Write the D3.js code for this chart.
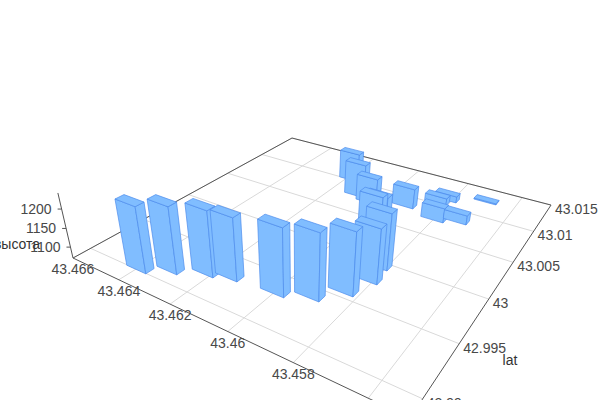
<!DOCTYPE html>
<html><head><meta charset="utf-8"><script src="https://cdn.jsdelivr.net/npm/d3@7"></script>
<style>html,body{margin:0;background:#fff}svg{display:block}text{font-family:"Liberation Sans",Arial,sans-serif;font-size:14px}</style></head>
<body><svg id="c" width="600" height="400"></svg>
<script>
const lons=[43.46398,43.46321,43.46225,43.46156,43.46004,43.45915,43.45850,43.45822,43.45830,43.46188,43.46107,43.46047,43.45925,43.45920,43.45928,43.45804,43.45736,43.45842,43.45821,43.45700];
const lats=[42.99033,42.99139,42.99246,42.99299,42.99330,42.99418,42.99581,42.99779,42.99958,43.01032,43.00799,43.00747,43.00273,43.00328,43.00852,43.00776,43.00845,43.01047,43.01141,43.01289];
const heights=[1241,1243,1240,1232,1242,1239,1231,1212,1218,1155,1167,1145,1189,1180,1127,1111,1096,1091,1088,1073];
const lonTicks=[43.466,43.464,43.462,43.46,43.458,43.456];
const latTicks=[43.015,43.01,43.005,43,42.995,42.99];
const zTicks=[1100,1150,1200];
const lonDomain=[43.466,43.455], latDomain=[42.9885,43.015], zDomain=[1070,1240];
const zName="высота", latName="lat";

const U=d3.scaleLinear().domain(lonDomain).range([0,1]);
const Vs=d3.scaleLinear().domain(latDomain).range([0,1]);
const T=d3.scaleLinear().domain(zDomain).range([0,-0.0627]);
// perspective camera matrix of the chart's 3D box
const P={a:217.3,b:353.3,c:73,d:38,e:-56.5,f:258,g:-0.2919,h:0.4599,vx:299,vy:1230};
function proj(u,v,t=0){
  const w=P.g*u+P.h*v+1+t;
  return [(P.a*u+P.b*v+P.c+t*P.vx)/w,(P.d*u+P.e*v+P.f+t*P.vy)/w];
}
const svg=d3.select("#c");
const line=d3.line();
const seg=(p,q,col,wd)=>svg.append("line").attr("x1",p[0]).attr("y1",p[1]).attr("x2",q[0]).attr("y2",q[1]).attr("stroke",col).attr("stroke-width",wd);
const GRID="#d9d9d9",AXIS="#555",TXT="#484848";
// floor grid
lonTicks.forEach(l=>seg(proj(U(l),0),proj(U(l),1),GRID,1));
latTicks.forEach(l=>seg(proj(0,Vs(l)),proj(1,Vs(l)),GRID,1));
// frame
seg(proj(0,0),proj(1,0),AXIS,1);
seg(proj(0,0),proj(0,1),AXIS,1);
seg(proj(0,1),proj(1,1),AXIS,1);
seg(proj(1,1),proj(1,0),AXIS,1);
seg(proj(0,0),proj(0,0,T(zDomain[1])),AXIS,1);
// labels
lonTicks.forEach(l=>{const p=proj(U(l),0);svg.append("text").attr("x",p[0]).attr("y",p[1]+16).attr("text-anchor","middle").attr("fill",TXT).text(l);});
latTicks.forEach(l=>{const p=proj(1,Vs(l));svg.append("text").attr("x",p[0]+4).attr("y",p[1]+9).attr("fill",TXT).text(l);});
zTicks.forEach(z=>{const p=proj(0,0,T(z));seg([p[0]-4,p[1]],p,AXIS,1);svg.append("text").attr("x",p[0]-10).attr("y",p[1]+5).attr("text-anchor","end").attr("fill",TXT).text(z);});
svg.append("text").attr("x",17).attr("y",249).attr("text-anchor","middle").attr("fill","#333").text(zName);
svg.append("text").attr("x",510).attr("y",365).attr("text-anchor","middle").attr("fill","#333").text(latName);
// bars
const du=0.036,dv=0.014;
const bars=lons.map((l,i)=>({u:U(l),v:Vs(lats[i]),t:T(heights[i])}))
  .sort((p,q)=>proj(p.u,p.v)[1]-proj(q.u,q.v)[1]);
const poly=pts=>svg.append("path").attr("d",line(pts)+"Z").attr("fill","#80bdff").attr("stroke","#4d8cec").attr("stroke-width",.7).attr("stroke-linejoin","round");
bars.forEach(b=>{
  const u0=b.u-du,u1=b.u+du,v0=b.v-dv,v1=b.v+dv,t=b.t;
  poly([proj(u0,v0),proj(u1,v0),proj(u1,v0,t),proj(u0,v0,t)]);
  poly([proj(u1,v0),proj(u1,v1),proj(u1,v1,t),proj(u1,v0,t)]);
  poly([proj(u0,v0,t),proj(u1,v0,t),proj(u1,v1,t),proj(u0,v1,t)]);
});
</script></body></html>
